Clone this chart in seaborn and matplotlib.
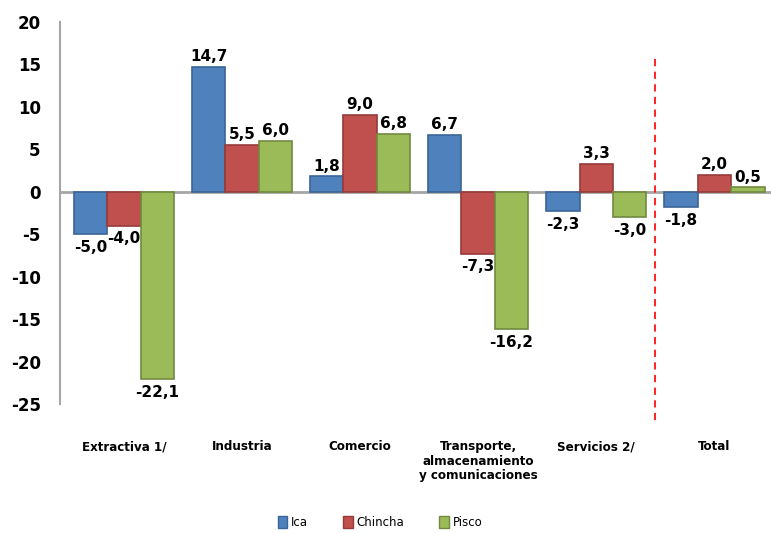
import matplotlib
matplotlib.use("Agg")
import matplotlib.pyplot as plt
import seaborn as sns
import pandas as pd

# datos
sectores = ["Extractiva 1/", "Industria", "Comercio",
            "Transporte,\nalmacenamiento\ny comunicaciones", "Servicios 2/", "Total"]
ica = [-5.0, 14.7, 1.8, 6.7, -2.3, -1.8]
chincha = [-4.0, 5.5, 9.0, -7.3, 3.3, 2.0]
pisco = [-22.1, 6.0, 6.8, -16.2, -3.0, 0.5]
series = ["Ica", "Chincha", "Pisco"]
colores = ["#4F81BD", "#C0504D", "#9BBB59"]
bordes = ["#3A6596", "#953B39", "#71893F"]

df = pd.DataFrame({
    "sector": sectores * 3,
    "valor": ica + chincha + pisco,
    "serie": ["Ica"] * 6 + ["Chincha"] * 6 + ["Pisco"] * 6,
})

sns.set_style("white")
plt.rcParams["font.family"] = ["DejaVu Sans"]
plt.rcParams["axes.unicode_minus"] = False
plt.rcParams["text.color"] = "black"
plt.rcParams["xtick.color"] = "black"
plt.rcParams["ytick.color"] = "black"

fig = plt.figure(figsize=(7.71, 5.33), dpi=100)
ax = fig.add_axes([0.078, 0.242, 0.922, 0.717])

sns.barplot(data=df, x="sector", y="valor", hue="serie", hue_order=series,
            palette=colores, width=0.85, saturation=1, ax=ax, legend=True)

for cont, borde in zip(ax.containers, bordes):
    for bar in cont:
        bar.set_edgecolor(borde)
        bar.set_linewidth(1.2)
        h = bar.get_height()
        x = bar.get_x() + bar.get_width() / 2
        off = 2 if h >= 0 else -4
        ax.annotate(f"{h:.1f}".replace(".", ","), (x, h), xytext=(0, off),
                    textcoords="offset points", ha="center",
                    va="bottom" if h >= 0 else "top",
                    fontsize=11, fontweight="bold", color="black")

ax.set_ylim(-25, 20)
ax.set_xlim(-0.54, 5.48)
ax.set_yticks(range(-25, 21, 5))
ax.axhline(0, color="#A6A6A6", linewidth=2, zorder=0)
ax.plot([4.5, 4.5], [15.6, -27], color="#FF1010", linestyle=(0, (4, 3)),
        linewidth=1.3, clip_on=False)

for s in ["top", "right", "bottom"]:
    ax.spines[s].set_visible(False)
ax.spines["left"].set_color("#A6A6A6")
ax.spines["left"].set_linewidth(1.5)

ax.tick_params(axis="y", length=0, pad=14)
ax.tick_params(axis="x", length=0, pad=26)
for t in ax.get_yticklabels():
    t.set_fontweight("bold")
    t.set_fontsize(12)
ax.set_xticks(range(6))
ax.set_xticklabels(sectores, fontsize=9.5, fontweight="bold",
                   fontstretch="condensed", linespacing=1.15, va="top")
ax.set_xlabel("")
ax.set_ylabel("")

leg = ax.legend(loc="center", bbox_to_anchor=(0.45, -0.31), ncol=3, frameon=False,
                fontsize=8.5, handlelength=0.8, handleheight=1.2, columnspacing=3,
                handletextpad=0.3)
for h, borde in zip(leg.legend_handles, bordes):
    h.set_edgecolor(borde)

fig.savefig("out.png", dpi=100)
